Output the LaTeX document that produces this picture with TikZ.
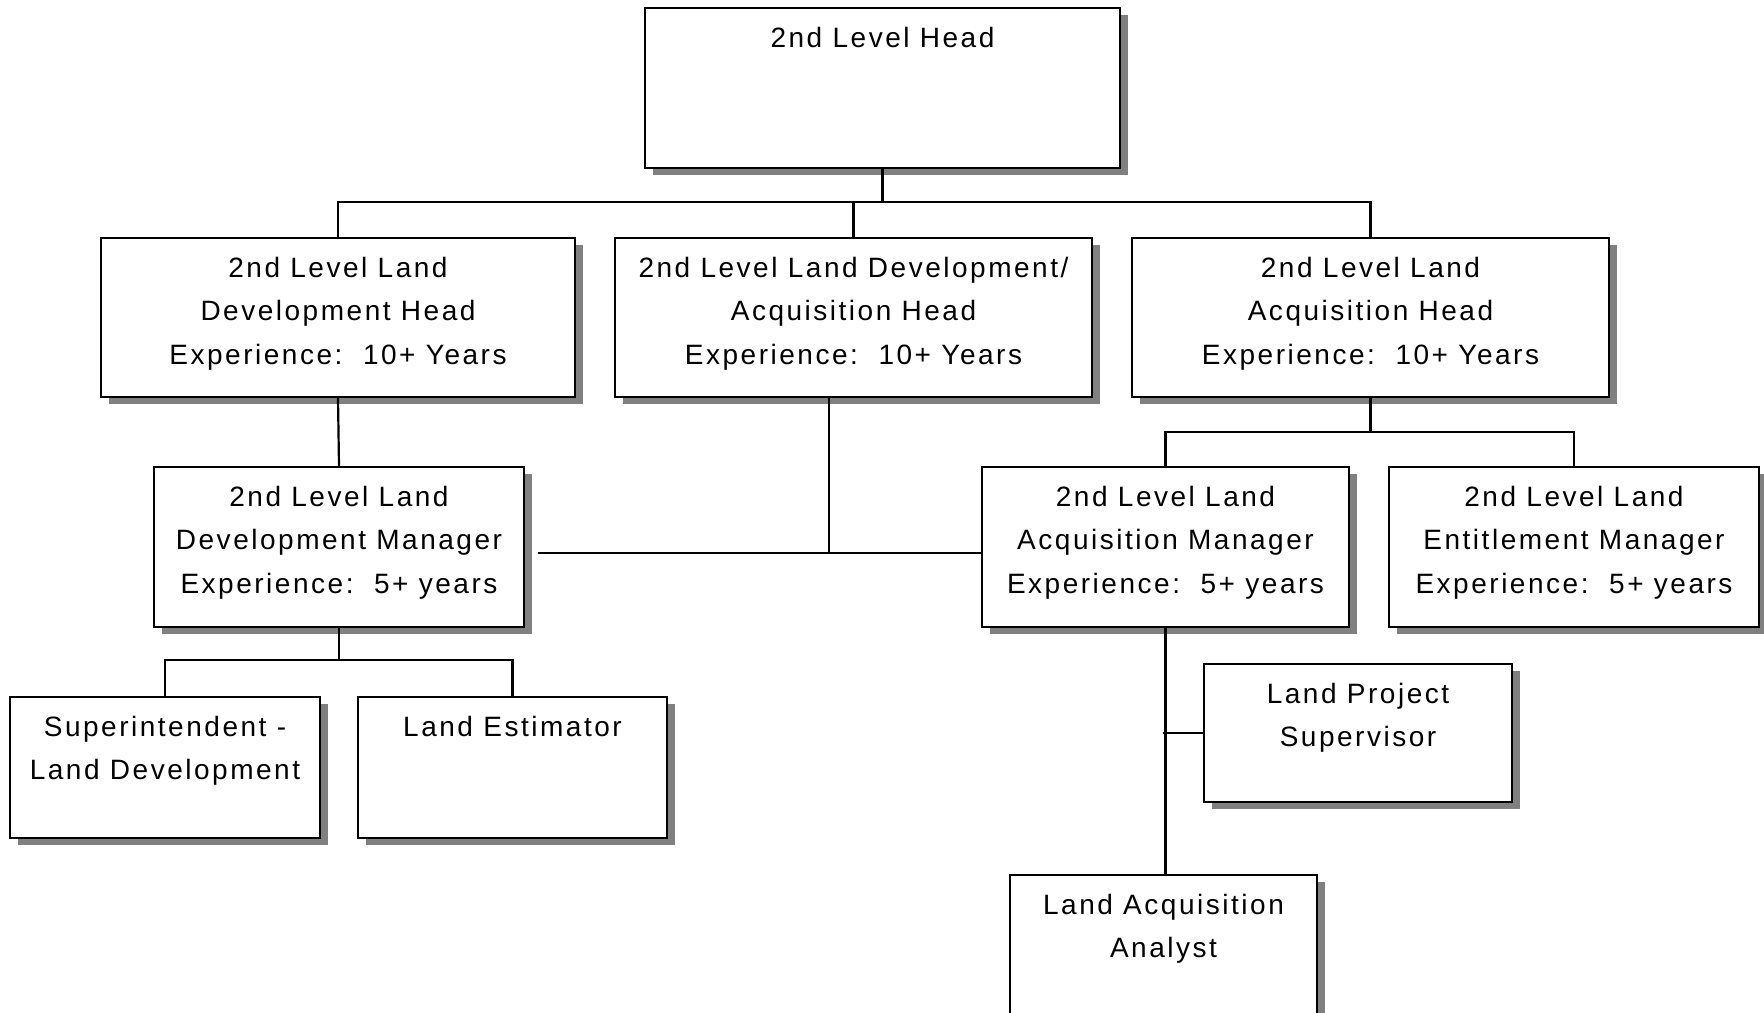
\documentclass[tikz,border=0pt]{standalone}
\usepackage{fontspec}
\setmainfont{Liberation Sans}[LetterSpace=9]
\usetikzlibrary{shadows,calc}
\newcommand\obox[6]{%
  \node[box, minimum width={#4-#2}, minimum height={#5-#3}] (#1) at ({(#2+#4)/2},{(#3+#5)/2}) {};
  \node[lbl] (#1-t) at ([yshift=-20pt]#1.north) {#6};
}
\begin{document}
\begin{tikzpicture}[x=1pt,y=-1pt,
  box/.style={draw=black, line width=2.4pt, fill=white, inner sep=0pt,
    drop shadow={shadow xshift=8pt, shadow yshift=-7pt, fill=black!50, opacity=1}},
  lbl/.style={anchor=north, align=center, inner sep=0pt, font=\fontsize{28}{43.5}\selectfont},
  conn/.style={line width=2.2pt}]
\useasboundingbox[fill=white] (0,0) rectangle (1764,1012);

\obox{head}{645}{8}{1120}{168}{2nd Level Head}
\obox{devhead}{101}{238}{575}{397}{2nd Level Land\\Development Head\\Experience:\ \ 10+ Years}
\obox{dahead}{615}{238}{1092}{397}{2nd Level Land Development/\\Acquisition Head\\Experience:\ \ 10+ Years}
\obox{acqhead}{1132}{238}{1609}{397}{2nd Level Land\\Acquisition Head\\Experience:\ \ 10+ Years}
\obox{devmgr}{154}{467}{524}{627}{2nd Level Land\\Development Manager\\Experience:\ \ 5+ years}
\obox{acqmgr}{982}{467}{1349}{627}{2nd Level Land\\Acquisition Manager\\Experience:\ \ 5+ years}
\obox{entmgr}{1389}{467}{1759}{627}{2nd Level Land\\Entitlement Manager\\Experience:\ \ 5+ years}
\obox{super}{10}{697}{320}{838}{Superintendent -\\Land Development}
\obox{estim}{358}{697}{667}{838}{Land Estimator}
\obox{proj}{1204}{664}{1512}{802}{Land Project\\Supervisor}
\obox{analyst}{1010}{875}{1317}{1040}{Land Acquisition\\Analyst}

\coordinate (bus1) at (0,202);
\draw[conn] (head.south) -- (head.south |- bus1);
\draw[conn] (devhead.north) |- (acqhead.north |- bus1) -- (acqhead.north);
\draw[conn] (dahead.north) -- (dahead.north |- bus1);
\draw[conn] (devhead.south) -- (devmgr.north);
\coordinate (j2) at (829,553);
\draw[conn] (j2 |- dahead.south) -- (j2);
\draw[conn] ($(devmgr.east |- j2)+(13,0)$) -- (acqmgr.west |- j2);
\coordinate (bus3) at (0,432);
\draw[conn] (acqhead.south) -- (acqhead.south |- bus3);
\draw[conn] (acqmgr.north) |- (entmgr.north |- bus3) -- (entmgr.north);
\coordinate (bus4) at (0,660);
\draw[conn] (devmgr.south) -- (devmgr.south |- bus4);
\draw[conn] (super.north) |- (estim.north |- bus4) -- (estim.north);
\draw[conn] (acqmgr.south) -- (acqmgr.south |- analyst.north);
\draw[conn] ($(acqmgr.south |- proj.west)+(-3,0)$) -- (proj.west);
\end{tikzpicture}
\end{document}
